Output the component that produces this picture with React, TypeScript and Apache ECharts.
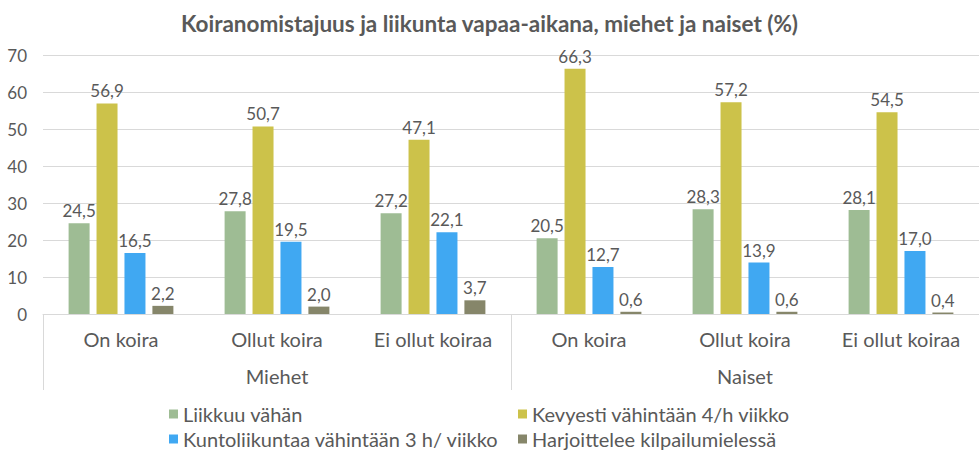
import React, { useEffect, useRef } from "react";
import * as echarts from "echarts";

const title = "Koiranomistajuus ja liikunta vapaa-aikana, miehet ja naiset (%)";
const categories = ["On koira", "Ollut koira", "Ei ollut koiraa", "On koira", "Ollut koira", "Ei ollut koiraa"];
const groups = ["Miehet", "Naiset"];
const seriesNames = [
  "Liikkuu vähän",
  "Kevyesti vähintään 4/h viikko",
  "Kuntoliikuntaa vähintään 3 h/ viikko",
  "Harjoittelee kilpailumielessä",
];
const liikkuuVahan = [24.5, 27.8, 27.2, 20.5, 28.3, 28.1];
const kevyesti = [56.9, 50.7, 47.1, 66.3, 57.2, 54.5];
const kuntoliikunta = [16.5, 19.5, 22.1, 12.7, 13.9, 17.0];
const harjoittelee = [2.2, 2.0, 3.7, 0.6, 0.6, 0.4];
const yTicks = { min: 0, max: 70, interval: 10 };

const colors = ["#9EBC94", "#CCC24A", "#40A8F2", "#86866A"];
const FONT = "Lato";
const TXT = "#595959";
const GRID = "#D9D9D9";

export default function App() {
  const ref = useRef<HTMLDivElement>(null);
  useEffect(() => {
    if (!ref.current) return;
    const chart = echarts.init(ref.current, undefined, { renderer: "svg" });
    const values = [liikkuuVahan, kevyesti, kuntoliikunta, harjoittelee];
    const legendBase = {
      orient: "vertical",
      top: 399,
      itemWidth: 9,
      itemHeight: 9,
      itemGap: 5,
      icon: "rect",
      textStyle: { fontFamily: FONT, fontSize: 20, lineHeight: 20, color: TXT },
    };
    chart.setOption({
      animation: false,
      textStyle: { fontFamily: FONT },
      title: {
        text: title,
        left: "center",
        top: 7,
        textStyle: { fontFamily: FONT, fontSize: 22.5, fontWeight: "bold", color: TXT },
      },
      legend: [
        { ...legendBase, data: [seriesNames[0], seriesNames[2]], left: 164 },
        { ...legendBase, data: [seriesNames[1], seriesNames[3]], left: 513 },
      ],
      grid: { left: 43, right: -12, top: 55, bottom: 143, containLabel: false },
      xAxis: [
        {
          type: "category",
          data: categories,
          axisLine: { show: true, lineStyle: { color: GRID } },
          axisTick: { show: false },
          axisLabel: { interval: 0, margin: 15, fontFamily: FONT, fontSize: 20, color: TXT },
        },
        {
          type: "category",
          data: groups,
          position: "bottom",
          axisLine: { show: false },
          axisTick: { show: true, length: 76, lineStyle: { color: GRID } },
          axisLabel: { interval: 0, margin: 52, fontFamily: FONT, fontSize: 20, color: TXT },
          splitLine: { show: false },
        },
      ],
      yAxis: {
        type: "value",
        min: yTicks.min,
        max: yTicks.max,
        interval: yTicks.interval,
        axisLine: { show: false },
        axisTick: { show: false },
        splitLine: { lineStyle: { color: GRID } },
        axisLabel: { margin: 16, fontFamily: FONT, fontSize: 17, color: TXT },
      },
      series: seriesNames.map((name, i) => ({
        name,
        type: "bar",
        xAxisIndex: 0,
        data: values[i],
        barWidth: 21,
        barGap: "33%",
        itemStyle: { color: colors[i] },
        label: {
          show: true,
          position: "top",
          distance: 4,
          fontFamily: FONT,
          fontSize: 17,
          color: TXT,
          formatter: (p: any) => Number(p.value).toFixed(1).replace(".", ","),
        },
      })),
    });
    return () => chart.dispose();
  }, []);
  return (
    <div
      ref={ref}
      style={{ position: "absolute", left: 0, top: 0, width: 979, height: 457, background: "#fff" }}
    />
  );
}
